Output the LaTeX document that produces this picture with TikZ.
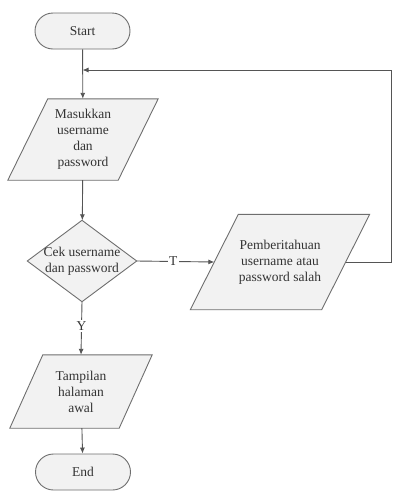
\documentclass[tikz,border=0pt]{standalone}
\usepackage{fontspec}
\setmainfont{Liberation Serif}
\usetikzlibrary{arrows.meta,backgrounds,calc}
\definecolor{shapefill}{HTML}{F2F2F2}
\definecolor{shapeline}{HTML}{6E6E6E}
\definecolor{connline}{HTML}{555555}
\definecolor{txtcol}{HTML}{333333}
\begin{document}
\begin{tikzpicture}[x=1pt,y=-1pt,
  every node/.style={font=\fontsize{13.5}{16}\selectfont, text=txtcol},
  term/.style={draw=shapeline, fill=shapefill, line width=0.9pt, rounded corners=18pt,
    minimum width=95pt, minimum height=36pt, inner sep=0pt},
  plainbox/.style={minimum width=#1, inner sep=0pt, align=center},
  shp/.style={draw=shapeline, fill=shapefill, line width=0.9pt},
  arr/.style={draw=connline, line width=0.9pt, -{Latex[length=6pt,width=5pt]}},
  lbl/.style={fill=white, inner sep=1.5pt}
]
\useasboundingbox (0,0) rectangle (392,491);

\node[term] (start) at (82.5,31) {Start};
\node[plainbox=110pt, minimum height=81pt] (p1) at (83,139.5) {Masukkan\\username\\dan\\password};
\node[plainbox=109pt, minimum height=81pt] (dec) at (82,261) {Cek username\\dan password};
\node[plainbox=131pt, minimum height=95pt] (p2) at (280,262) {Pemberitahuan\\username atau\\password salah};
\node[plainbox=109pt, minimum height=73pt] (p3) at (81,391.5) {Tampilan\\halaman\\awal};
\node[term] (end) at (83,472) {End};

\begin{scope}[on background layer]
  \draw[shp] ($(p1.north west)+(20,0)$) -- ($(p1.north east)+(20,0)$)
    -- ($(p1.south east)+(-20,0)$) -- ($(p1.south west)+(-20,0)$) -- cycle;
  \draw[shp] (dec.north) -- (dec.east) -- (dec.south) -- (dec.west) -- cycle;
  \draw[shp] ($(p2.north west)+(24,0)$) -- ($(p2.north east)+(24,0)$)
    -- ($(p2.south east)+(-24,0)$) -- ($(p2.south west)+(-24,0)$) -- cycle;
  \draw[shp] ($(p3.north west)+(16.5,0)$) -- ($(p3.north east)+(16.5,0)$)
    -- ($(p3.south east)+(-16.5,0)$) -- ($(p3.south west)+(-16.5,0)$) -- cycle;
\end{scope}

\coordinate (jn) at (82.5,70);
\coordinate (rc) at (391,70);

\draw[arr] (start) -- (p1);
\draw[arr] (p1) -- (dec);
\draw[arr] (dec.east) -- node[lbl, pos=0.47]{T} (p2.west);
\draw[arr] (dec.south) -- node[lbl, pos=0.45]{Y} (p3.north);
\draw[arr] (p3) -- (end);
\draw[arr] (p2.east) -- (p2.east -| rc) -- (rc) -- (jn);
\end{tikzpicture}
\end{document}
